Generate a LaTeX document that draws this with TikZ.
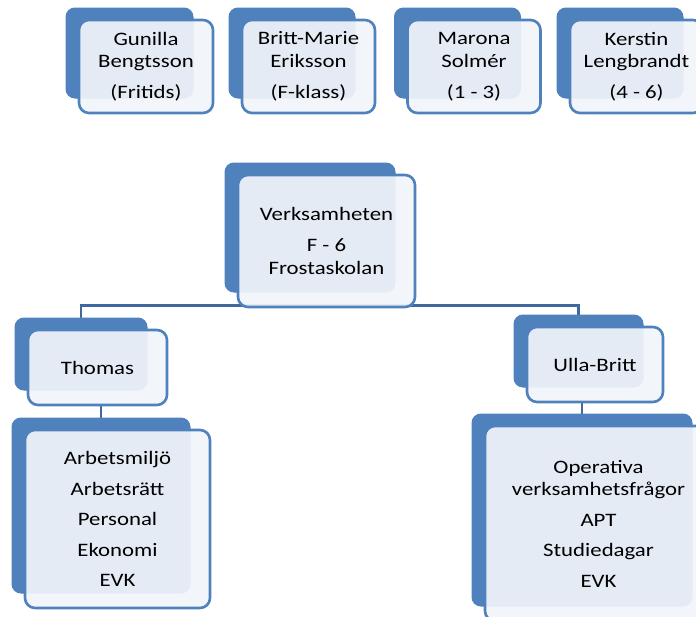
\documentclass[tikz,border=0pt]{standalone}
\usepackage{fontspec}
\setmainfont[FakeStretch=1.2]{Carlito}
\usetikzlibrary{backgrounds}
\definecolor{accent}{HTML}{4F81BD}
\definecolor{frontfill}{HTML}{F1F4FA}
\definecolor{linkcol}{HTML}{41689E}
\tikzset{
  backbox/.style={fill=accent, draw=accent, line width=1pt, rounded corners=9pt, inner sep=0pt},
  frontbox/.style={fill=frontfill, fill opacity=0.93, text opacity=1, draw=accent, line width=2.6pt,
    rounded corners=10pt, inner sep=0pt, align=center, font=\fontsize{19}{22.5}\selectfont, text=black},
  link/.style={draw=linkcol, line width=2.7pt}
}
% #1 name, #2 centre x, #3 centre y (px, downward), #4 width, #5 height, #6 text
\newcommand\orgbox[6]{%
  \node[backbox, minimum width={(#4-7)*1pt}, minimum height={(#5-3)*1pt}] (#1b) at ({#2-16.5},{13.5-#3}) {};
  \node[frontbox, minimum width={#4*1pt}, minimum height={#5*1pt}] (#1) at (#2,{-#3}) {#6};
}
\begin{document}
\begin{tikzpicture}[x=1pt,y=1pt]
\useasboundingbox (0,0) rectangle (696,-616);
\clip (0,0) rectangle (696,-616);
\orgbox{g}{146}{66.5}{134}{93}{Gunilla\\Bengtsson\\[8.5pt](Fritids)}
\orgbox{bm}{308.5}{66.5}{133}{93}{Britt-Marie\\Eriksson\\[8.5pt](F-klass)}
\orgbox{m}{474}{66.5}{133}{93}{Marona\\Solmér\\[8.5pt](1 - 3)}
\orgbox{k}{636.5}{66.5}{133}{93}{Kerstin\\Lengbrandt\\[8.5pt](4 - 6)}
\orgbox{c}{326.5}{241}{177}{132}{Verksamheten\\[8.5pt]F - 6\\Frostaskolan}
\orgbox{t}{97.5}{367.5}{139}{75}{Thomas}
\orgbox{tl}{117.5}{519}{185}{178}{Arbetsmiljö\\[8pt]Arbetsrätt\\[8pt]Personal\\[8pt]Ekonomi\\[8pt]EVK}
\orgbox{u}{595}{364.5}{136}{75}{Ulla-Britt}
\orgbox{ul}{598.5}{523.5}{227}{195}{Operativa\\verksamhetsfrågor\\[8pt]APT\\[8pt]Studiedagar\\[8pt]EVK}
\begin{pgfonlayer}{background}
  \coordinate (bus) at ([yshift=3pt]c.south);
  \draw[link] (tb.north) |- (bus) -| (ub.north);
  \draw[link] (tlb.north) -- (tlb.north |- t.south);
  \draw[link] (ulb.north) -- (ulb.north |- u.south);
\end{pgfonlayer}
\end{tikzpicture}
\end{document}
